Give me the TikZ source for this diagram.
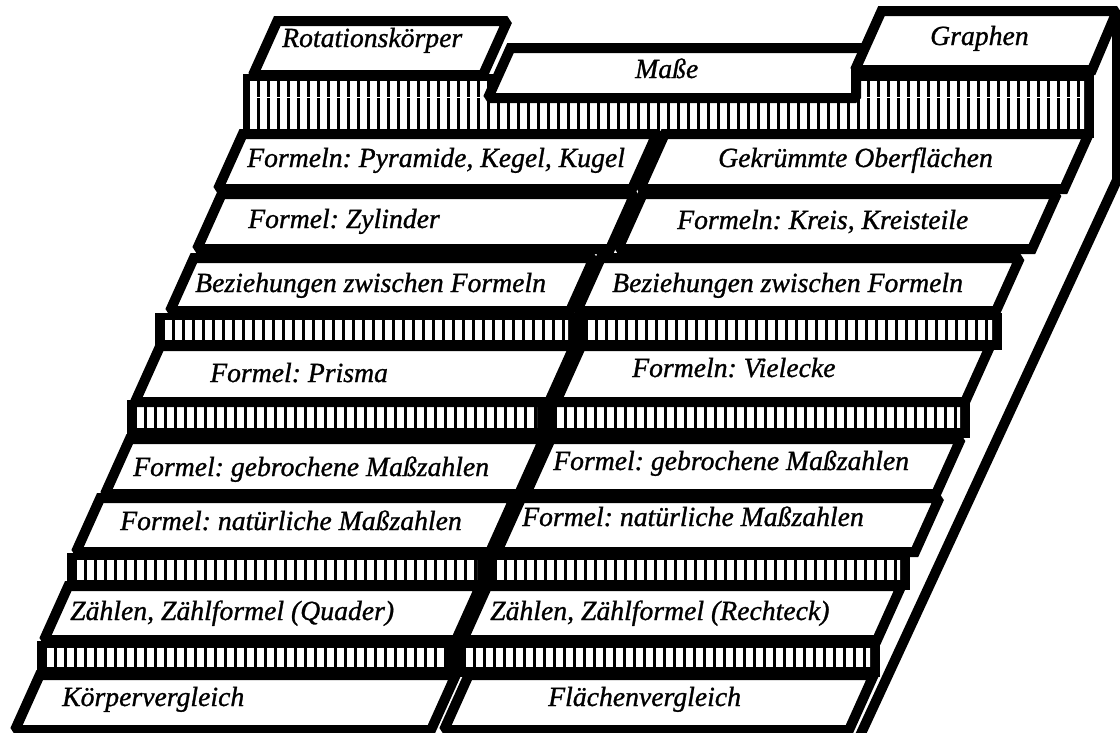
\documentclass[tikz,border=0pt]{standalone}
\usepackage{fontspec}
\setmainfont{Liberation Serif}
\newfontfamily\lblfont{Liberation Serif}[FakeBold=1]
\frenchspacing
\tikzset{
  box/.style={draw=black, line width=10pt, fill=white, line join=miter, miter limit=1.3},
  lbl/.style={font=\lblfont\fontsize{27.7}{30}\selectfont\itshape, anchor=base west, inner sep=0pt},
  sideline/.style={draw=black, line width=10pt, line join=miter}
}
% parallelogram box: ytop, ybot, x bottom-left, x bottom-right
\newcommand\pbox[4]{\draw[box] (#3,#2) -- ({#3+0.45*(#2-#1)},#1) -- ({#4+0.45*(#2-#1)},#1) -- (#4,#2) -- cycle;}
% hatched riser: x0, x1, bar top, bar bottom
\newcommand\riser[4]{%
  \fill[black] (#1,#3-7) rectangle (#2,#4+10);
  \begin{scope}
    \clip (#1+10,#3) rectangle (#2-10,#4);
    \foreach \xx in {0,10,...,1100}{\fill[white] ({#1+10+\xx},#3) rectangle ++(7,#4-#3);}
  \end{scope}}
\begin{document}
\begin{tikzpicture}[x=1pt,y=-1pt]
\useasboundingbox[fill=white] (0,0) rectangle (1120,732);
% top riser
\fill[black] (243,74) rectangle (1094,138);
\begin{scope}
  \clip (250,81) rectangle (1084,131);
  \foreach \xx in {0,10,...,840}{\fill[white] ({250+\xx},81) rectangle ++(7,50);}
\end{scope}
\fill[white] (250,97) rectangle (1084,98);
% risers
\riser{155}{578}{320}{340}
\riser{578}{1002}{320}{340}
\riser{127}{547}{407}{428}
\riser{547}{970}{407}{428}
\riser{67}{487}{560}{580}
\riser{487}{910}{560}{580}
\riser{37}{456}{648}{667}
\riser{456}{880}{648}{667}
% rows of boxes
\pbox{134}{189}{218}{632}
\pbox{134}{189}{640}{1064}
\pbox{194}{249}{197}{610}
\pbox{194}{249}{618}{1032}
\pbox{258}{311}{170}{570}
\pbox{258}{311}{577}{996}
\pbox{346}{402}{135}{549}
\pbox{346}{402}{556}{965}
\pbox{439}{494}{105}{519}
\pbox{439}{494}{526}{936}
\pbox{498}{552}{76}{490}
\pbox{498}{552}{497}{915}
\pbox{586}{640}{44}{456}
\pbox{586}{640}{463}{877}
\pbox{675}{730}{15}{431}
\pbox{675}{730}{444}{849}
% top boxes
\pbox{21}{75}{253}{483}
\draw[box] (488,98) -- (510.5,48) -- (866,48) -- (856,70) -- (856,98) -- cycle;
\coordinate (gtr) at (1117,11);
\draw[box] (855,70) -- (881.5,11) -- (gtr) -- (1092,70) -- cycle;
% side panel
\coordinate (sidemid) at (1117,180);
\coordinate (sidebot) at (858,740);
\draw[sideline] (gtr) -- (sidemid) -- (sidebot);
% labels
\node[lbl] (t1) at (282,47) {Rotationskörper};
\node[lbl] (t2) at (635,78) {Maße};
\node[lbl] (t3) at (930,45) {Graphen};
\node[lbl] (t4) at (247,167) {Formeln: Pyramide, Kegel, Kugel};
\node[lbl] (t5) at (718,167) {Gekrümmte Oberflächen};
\node[lbl] (t6) at (248,228) {Formel: Zylinder};
\node[lbl] (t7) at (677,229) {Formeln: Kreis, Kreisteile};
\node[lbl] (t8) at (195,292) {Beziehungen zwischen Formeln};
\node[lbl] (t9) at (612,292) {Beziehungen zwischen Formeln};
\node[lbl] (t10) at (210,382) {Formel: Prisma};
\node[lbl] (t11) at (632,377) {Formeln: Vielecke};
\node[lbl] (t12) at (133,476) {Formel: gebrochene Maßzahlen};
\node[lbl] (t13) at (553,470) {Formel: gebrochene Maßzahlen};
\node[lbl] (t14) at (120,530) {Formel: natürliche Maßzahlen};
\node[lbl] (t15) at (522,526) {Formel: natürliche Maßzahlen};
\node[lbl] (t16) at (70,620) {Zählen, Zählformel (Quader)};
\node[lbl] (t17) at (490,620) {Zählen, Zählformel (Rechteck)};
\node[lbl] (t18) at (62,706) {Körpervergleich};
\node[lbl] (t19) at (548,706) {Flächenvergleich};
\end{tikzpicture}
\end{document}
